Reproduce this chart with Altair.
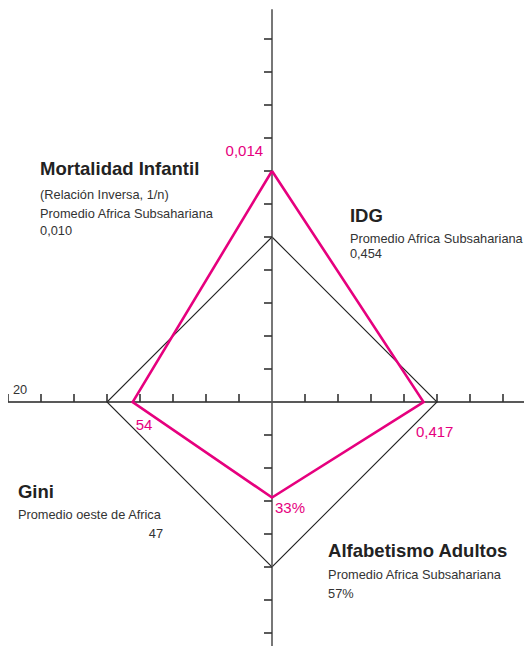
import altair as alt
import pandas as pd

# ---- data ----
axis_names = ["Mortalidad Infantil", "IDG", "Alfabetismo Adultos", "Gini"]
axis_dx = [0, 1, 0, -1]
axis_dy = [1, 0, -1, 0]
country_values = [0.014, 0.417, 33, 54]
country_labels = ["0,014", "0,417", "33%", "54"]
reference_values = [0.010, 0.454, 57, 47]

# scale of each axis: reference average sits on tick 5; Gini is inverted (20 at tick 8)
def radius(i, v):
    if i == 3:
        return 8 - (v - 20) / 9
    return 5 * v / reference_values[i]

def polygon(values, series):
    rows = []
    for k in range(5):
        i = k % 4
        r = radius(i, values[i])
        rows.append({"x": axis_dx[i] * r, "y": axis_dy[i] * r, "order": k, "series": series})
    return rows

poly = pd.DataFrame(polygon(reference_values, "Promedio") + polygon(country_values, "País"))

# axis extents (in tick units) and ticks
W, H = 516, 638
UNIT = 33
CX, CY = 264, 394
X_MIN, X_MAX = -CX / UNIT, (W - CX) / UNIT
Y_MIN, Y_MAX = -(H - CY) / UNIT, CY / UNIT
TICK = 8 / UNIT
h_ticks = [-8, -7, -6, -5, -4, -3, -2, -1, 1, 2, 3, 4, 5, 6, 7]
v_ticks = [-7, -6, -5, -4, -3, -2, -1, 1, 2, 3, 4, 5, 6, 7, 8, 9, 10, 11]

ticks = pd.DataFrame(
    [{"x": t, "x2": t, "y": 0, "y2": TICK} for t in h_ticks]
    + [{"x": -TICK, "x2": 0, "y": t, "y2": t} for t in v_ticks]
)
axes_df = pd.DataFrame([
    {"x": X_MIN, "x2": X_MAX, "y": 0, "y2": 0, "c": "h"},
    {"x": 0, "x2": 0, "y": Y_MIN, "y2": 11.9, "c": "v"},
])

# annotation text
titles = pd.DataFrame({
    "text": ["Mortalidad Infantil", "IDG", "Alfabetismo Adultos", "Gini"],
    "x": [-7.03, 2.36, 1.70, -7.70],
    "y": [6.88, 5.46, -4.70, -2.91],
})
notes = pd.DataFrame({
    "text": ["(Relación Inversa, 1/n)", "Promedio Africa Subsahariana", "0,010",
             "Promedio Africa Subsahariana", "0,454",
             "Promedio Africa Subsahariana", "57%",
             "Promedio oeste de Africa", "20"],
    "x": [-7.03, -7.03, -7.03, 2.36, 2.36, 1.70, 1.70, -7.70, -7.85],
    "y": [6.15, 5.59, 5.06, 4.83, 4.36, -5.36, -5.94, -3.55, 0.25],
})
notes_right = pd.DataFrame({"text": ["47"], "x": [-3.30], "y": [-4.12]})
values_df = pd.DataFrame({
    "text": country_labels,
    "x": [-0.27, 4.36, 0.09, -4.13],
    "y": [7.45, -1.05, -3.37, -0.86],
    "align": ["right", "left", "left", "left"],
})

FONT = "Liberation Sans"
PINK = "#e6007e"

xs = alt.Scale(domain=[X_MIN, X_MAX], nice=False, zero=False)
ys = alt.Scale(domain=[Y_MIN, Y_MAX], nice=False, zero=False)

def X(f="x"):
    return alt.X(f"{f}:Q", scale=xs, axis=None)

def Y(f="y"):
    return alt.Y(f"{f}:Q", scale=ys, axis=None)

axis_lines = alt.Chart(axes_df).mark_rule(strokeWidth=1.6).encode(
    x=X(), x2="x2:Q", y=Y(), y2="y2:Q",
    color=alt.Color("c:N", scale=alt.Scale(domain=["h", "v"], range=["#222222", "#555555"]), legend=None),
)
tick_marks = alt.Chart(ticks).mark_rule(strokeWidth=1.6, color="#333333").encode(
    x=X(), x2="x2:Q", y=Y(), y2="y2:Q"
)
ref_line = alt.Chart(poly).transform_filter(alt.datum.series == "Promedio").mark_line(
    color="#222222", strokeWidth=1.1
).encode(x=X(), y=Y(), order="order:Q")
country_line = alt.Chart(poly).transform_filter(alt.datum.series == "País").mark_line(
    color=PINK, strokeWidth=2.6, strokeJoin="miter"
).encode(x=X(), y=Y(), order="order:Q")

title_text = alt.Chart(titles).mark_text(
    font=FONT, fontSize=18.5, fontWeight="bold", align="left", baseline="alphabetic", color="#222222"
).encode(x=X(), y=Y(), text="text:N")
note_text = alt.Chart(notes).mark_text(
    font=FONT, fontSize=12.8, align="left", baseline="alphabetic", color="#333333"
).encode(x=X(), y=Y(), text="text:N")
note_right = alt.Chart(notes_right).mark_text(
    font=FONT, fontSize=12.8, align="right", baseline="alphabetic", color="#333333"
).encode(x=X(), y=Y(), text="text:N")
val_left = alt.Chart(values_df).transform_filter(alt.datum.align == "left").mark_text(
    font=FONT, fontSize=15, align="left", baseline="alphabetic", color=PINK
).encode(x=X(), y=Y(), text="text:N")
val_right = alt.Chart(values_df).transform_filter(alt.datum.align == "right").mark_text(
    font=FONT, fontSize=15, align="right", baseline="alphabetic", color=PINK
).encode(x=X(), y=Y(), text="text:N")

chart = alt.layer(
    ref_line, axis_lines, tick_marks, country_line,
    title_text, note_text, note_right, val_left, val_right,
).properties(
    width=W, height=H, autosize=alt.AutoSizeParams(type="none"), padding=0
).configure_view(stroke=None)

chart.save("out.html", embed_options={"renderer": "svg", "actions": False})
